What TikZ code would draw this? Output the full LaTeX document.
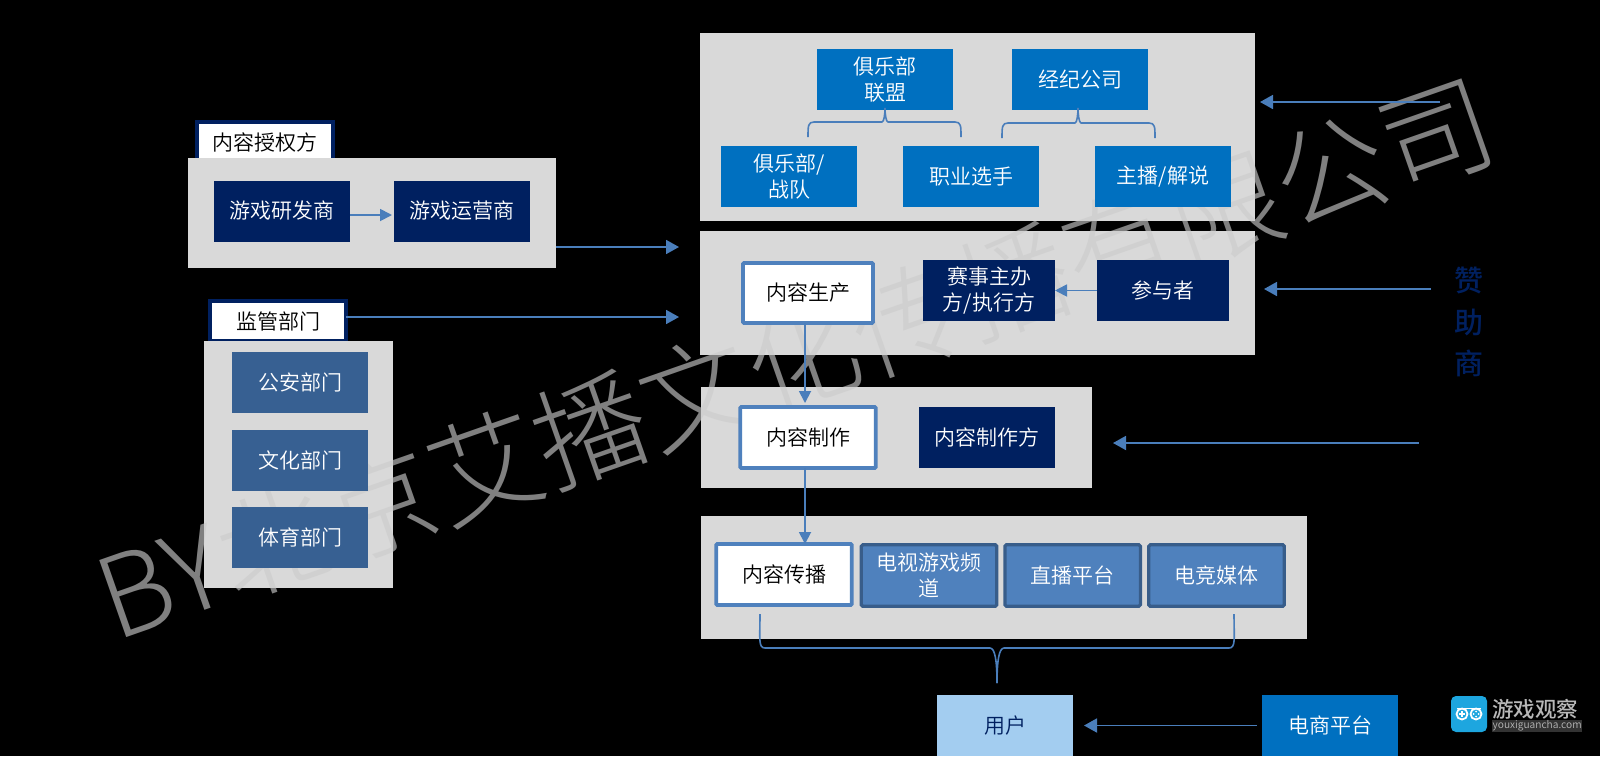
\documentclass[tikz,border=0pt]{standalone}
\usepackage{fontspec}
\setmainfont{Noto Sans CJK SC DemiLight}
\newfontfamily\wmfont{Noto Sans CJK SC Light}
\newfontfamily\boldfnt{Noto Sans CJK SC Medium}
\usetikzlibrary{arrows.meta}
\definecolor{navy}{HTML}{002060}
\definecolor{mblue}{HTML}{0070C0}
\definecolor{steel}{HTML}{376092}
\definecolor{rim}{HTML}{4F81BD}
\definecolor{darkrim}{HTML}{385D8A}
\definecolor{linec}{HTML}{4A7EBB}
\definecolor{panel}{HTML}{D9D9D9}
\definecolor{sky}{HTML}{A3CDF0}
\definecolor{wmc}{RGB}{203,203,203}
\definecolor{logob}{HTML}{1DA6DF}
\tikzset{
  x=1pt,y=-1pt,
  base/.style={inner sep=0pt,outer sep=0pt,align=center,font=\fontsize{21}{25.5}\selectfont},
  graybox/.style={base,fill=panel},
  navybox/.style={base,fill=navy,text=white,minimum width=136pt,minimum height=61pt},
  bluebox/.style={base,fill=mblue,text=white,minimum width=136pt,minimum height=61pt},
  steelbox/.style={base,fill=steel,text=white,minimum width=136pt,minimum height=61pt},
  whitebox/.style={base,fill=white,text=black,draw=rim,line width=3.6pt,rounded corners=1pt,minimum width=135.5pt,minimum height=61pt},
  rimbox/.style={base,fill=rim,text=white,draw=darkrim,line width=3.2pt,rounded corners=1.5pt,minimum width=135.5pt,minimum height=61.5pt},
  tabbox/.style={base,fill=white,text=black,draw=navy,line width=3.6pt,minimum width=136pt,minimum height=40pt},
  arr/.style={draw=linec,line width=1.8pt,-{Triangle[length=13pt,width=14pt]}},
  arrs/.style={draw=linec,line width=1.8pt,-{Triangle[length=12pt,width=12pt]}},
  bracepath/.style={draw=linec,line width=1.6pt,line join=round},
}
\begin{document}
\begin{tikzpicture}
\useasboundingbox (0,0) rectangle (1600,756);
\fill[black] (0,0) rectangle (1600,756);
% tabs sit behind the panels
\node[tabbox] (tabA) at (265,142) {内容授权方};
\node[tabbox] (tabB) at (278,321) {监管部门};
% panels
\node[graybox,minimum width=368pt,minimum height=110pt] (gA) at (372,213) {};
\node[graybox,minimum width=189pt,minimum height=247pt] (gB) at (298.5,464.5) {};
\node[graybox,minimum width=555pt,minimum height=188pt] (g1) at (977.5,127) {};
\node[graybox,minimum width=555pt,minimum height=124pt] (g2) at (977.5,293) {};
\node[graybox,minimum width=391pt,minimum height=101pt] (g3) at (896.5,437.5) {};
\node[graybox,minimum width=606pt,minimum height=123pt] (g4) at (1004,577.5) {};
% watermark, under the boxes
\node[inner sep=0pt,rotate=19.3,text=wmc,opacity=.63,text opacity=.63,font=\wmfont\fontsize{112}{112}\selectfont] (wm) at (795,358) {BY北京艾播文化传播有限公司};
% left group
\node[navybox] (dev) at (282,211) {游戏研发商};
\node[navybox] (ops) at (462,211) {游戏运营商};
\node[steelbox] (ga) at (300,382.5) {公安部门};
\node[steelbox] (wh) at (300,460.5) {文化部门};
\node[steelbox] (ty) at (300,537.5) {体育部门};
% top panel
\node[bluebox] (lm) at (885,79.5) {俱乐部\\联盟};
\node[bluebox] (jj) at (1080,79.5) {经纪公司};
\node[bluebox] (jl) at (789,176.5) {俱乐部/\\战队};
\node[bluebox] (zy) at (971,176.5) {职业选手};
\node[bluebox] (zb) at (1163,176.5) {主播/解说};
% second panel
\node[whitebox,minimum width=130pt,minimum height=60pt] (sc) at (808,293) {内容生产};
\node[navybox,minimum width=132pt] (ss) at (989,290.5) {赛事主办\\方/执行方};
\node[navybox,minimum width=132pt] (cy) at (1163,290.5) {参与者};
% third panel
\node[whitebox] (zz) at (808,437.5) {内容制作};
\node[navybox,minimum width=136pt] (zzf) at (987,437.5) {内容制作方};
% fourth panel
\node[whitebox] (cb) at (784,574.5) {内容传播};
\node[rimbox] (ds) at (929,575.5) {电视游戏频\\道};
\node[rimbox] (zpt) at (1072.7,575.5) {直播平台};
\node[rimbox] (dj) at (1216.5,575.5) {电竞媒体};
% bottom row
\node[base,fill=sky,text=navy,minimum width=136pt,minimum height=61pt] (user) at (1005,725.5) {用户};
\node[bluebox] (ec) at (1330,725.5) {电商平台};
% sponsor
\node[base,text=navy,font=\boldfnt\fontsize{29}{41.5}\selectfont] (zzs) at (1469,322) {赞\\助\\商};
% free ends
\coordinate (t1) at (679,247);
\coordinate (t2) at (679,317);
\coordinate (s1) at (1440,102);
\coordinate (s2) at (1431,289);
\coordinate (s3) at (1419,443);
% arrows
\draw[arrs] ([yshift=-4pt]dev.east) -- ([yshift=-4pt,xshift=-2pt]ops.west);
\draw[arr] (gA.east |- t1) -- (t1);
\draw[arr] (tabB.east |- t2) -- (t2);
\draw[arr,shorten >=5pt] (s1) -- (g1.east |- s1);
\draw[arr,shorten >=9pt] (s2) -- (g2.east |- s2);
\draw[arr,shorten >=21pt] (s3) -- (g3.east |- s3);
\draw[arrs] (cy.west) -- (ss.east);
\draw[arrs,shorten >=4pt] ([xshift=-3pt]sc.south) -- ([xshift=-3pt]zz.north);
\draw[arrs] ([xshift=-3pt]zz.south) -- ([xshift=21pt]cb.north);
\draw[arr,shorten <=5pt,shorten >=11pt] (ec.west) -- (user.east);
% braces
\coordinate (a1) at (808,137); \coordinate (a2) at (961,137); \coordinate (am) at (885,122); \coordinate (at) at (885,108);
\coordinate (b1) at (1002,138); \coordinate (b2) at (1155,138); \coordinate (bm) at (1078,123); \coordinate (bt) at (1078,108);
\coordinate (c1) at (760,614); \coordinate (c2) at (1234,614); \coordinate (cm) at (997,648); \coordinate (ct) at (997,683);
\draw[bracepath] (a1) .. controls +(0,-11) and +(-6,0) .. ([xshift=6pt]a1 |- am) -- ([xshift=-3pt]am) .. controls +(2,0) and +(0,6) .. (at);
\draw[bracepath] (a2) .. controls +(0,-11) and +(6,0) .. ([xshift=-6pt]a2 |- am) -- ([xshift=3pt]am) .. controls +(-2,0) and +(0,6) .. (at);
\draw[bracepath] (b1) .. controls +(0,-11) and +(-6,0) .. ([xshift=6pt]b1 |- bm) -- ([xshift=-3pt]bm) .. controls +(2,0) and +(0,6) .. (bt);
\draw[bracepath] (b2) .. controls +(0,-11) and +(6,0) .. ([xshift=-6pt]b2 |- bm) -- ([xshift=3pt]bm) .. controls +(-2,0) and +(0,6) .. (bt);
\draw[bracepath] (c1) .. controls +(0,24) and +(-7,0) .. ([xshift=5pt]c1 |- cm) -- ([xshift=-7pt]cm) .. controls +(5,0) and +(0,-22) .. (ct);
\draw[bracepath] (c2) .. controls +(0,24) and +(7,0) .. ([xshift=-5pt]c2 |- cm) -- ([xshift=7pt]cm) .. controls +(-5,0) and +(0,-22) .. (ct);
% logo
\node[fill=logob,rounded corners=5pt,minimum width=36pt,minimum height=36pt,inner sep=0pt] (logo) at (1469,714) {};
\draw[white,line width=1.8pt] (logo.center) ++(-7,0) circle (5.5pt);
\draw[white,line width=1.8pt] (logo.center) ++(7,0) circle (5.5pt);
\draw[white,line width=1.8pt] (logo.center) ++(-12,-5.5) -- ++(24,0);
\draw[white,line width=1.4pt] (logo.center) ++(-10,0) -- ++(6,0) (logo.center) ++(-7,-3) -- ++(0,6);
\fill[white] (logo.center) ++(7,-2.5) circle (1pt) ++(0,5) circle (1pt) ++(-2.5,-2.5) circle (1pt) ++(5,0) circle (1pt);
\node[inner sep=0pt,anchor=west,text=white!72!black,font=\boldfnt\fontsize{21.5}{21.5}\selectfont] (lg1) at (1492,709.5) {游戏观察};
\node[inner sep=.5pt,anchor=west,fill=black!80!white,text=white!72!black,font=\fontsize{10.2}{11}\selectfont] (lg2) at (1492,726) {youxiguancha.com};
\end{tikzpicture}
\end{document}
